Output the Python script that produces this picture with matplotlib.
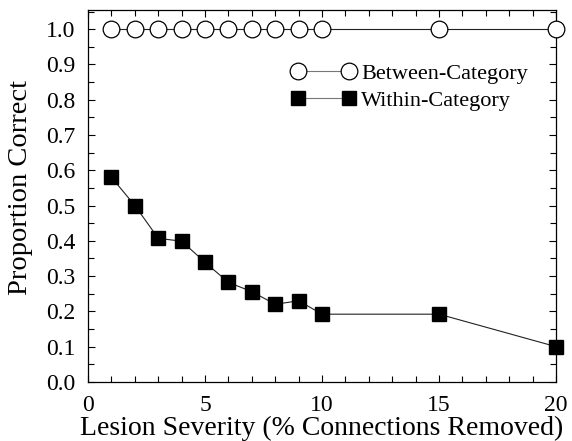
import numpy as np
import matplotlib.pyplot as plt
from matplotlib.ticker import MultipleLocator, FormatStrFormatter

# dados
severidade = [1, 2, 3, 4, 5, 6, 7, 8, 9, 10, 15, 20]
entre = [1.0, 1.0, 1.0, 1.0, 1.0, 1.0, 1.0, 1.0, 1.0, 1.0, 1.0, 1.0]
dentro = [0.58, 0.50, 0.407, 0.399, 0.339, 0.282, 0.256, 0.220, 0.230, 0.192, 0.192, 0.100]

plt.rcParams['font.family'] = ['Liberation Serif', 'DejaVu Serif']

fig = plt.figure(figsize=(5.72, 4.41), dpi=100)
ax = fig.add_axes([0.154, 0.134, 0.818, 0.843])

ax.plot(severidade, entre, color='#222222', lw=0.8, marker='o', ms=12,
        mfc='white', mec='black', mew=0.9, label='Between-Category', clip_on=False, zorder=3)
ax.plot(severidade, dentro, color='#222222', lw=0.8, marker='s', ms=9.8,
        mfc='black', mec='black', label='Within-Category', clip_on=False, zorder=3)

ax.set_xlim(0, 20)
ax.set_ylim(0, 1.054)
ax.xaxis.set_major_locator(MultipleLocator(5))
ax.xaxis.set_minor_locator(MultipleLocator(1))
ax.yaxis.set_major_locator(MultipleLocator(0.1))
ax.yaxis.set_minor_locator(MultipleLocator(0.05))
ax.yaxis.set_major_formatter(FormatStrFormatter('%.1f'))
ax.tick_params(which='both', direction='in', top=True, right=True, labelsize=17, width=0.8)
ax.tick_params(which='major', length=5)
ax.tick_params(which='minor', length=4)
ax.tick_params(axis='x', which='major', pad=9.5)
ax.tick_params(axis='y', which='major', pad=9)
for s in ax.spines.values():
    s.set_linewidth(0.9)

ax.set_xlabel('Lesion Severity (% Connections Removed)', fontsize=20, labelpad=-0.5)
ax.set_ylabel('Proportion Correct', fontsize=20.5)
ax.yaxis.set_label_coords(-0.1175, 0.524)

leg = ax.legend(loc='upper left', bbox_to_anchor=(0.434, 0.857), frameon=False, fontsize=16,
                numpoints=2, handlelength=2.9, handletextpad=0.25, borderaxespad=0,
                borderpad=0, labelspacing=0.3)
for linha in leg.get_lines():
    linha.set_color('#777777')

fig.savefig('out.png', dpi=100)
